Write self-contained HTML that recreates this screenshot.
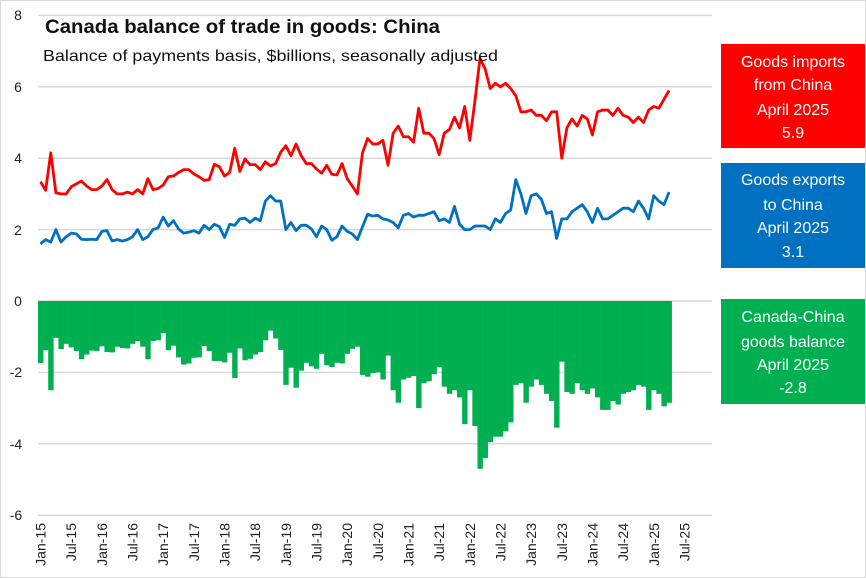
<!DOCTYPE html>
<html><head><meta charset="utf-8"><style>
html,body{margin:0;padding:0;background:#fff}
svg{display:block;font-family:"Liberation Sans",sans-serif}
</style></head><body>
<svg id="s" width="866" height="578" viewBox="0 0 866 578" xmlns="http://www.w3.org/2000/svg">
<rect x="0.5" y="0.5" width="865" height="577" fill="#fff" stroke="#d9d9d9"/>
<g id="grid" stroke="#d9d9d9" stroke-width="1.5"></g>
<g id="bars" fill="#00b050"></g>
<g id="lines"></g>
<g font-size="14" fill="#222" text-anchor="middle">
<text x="18" y="20">8</text><text x="18" y="92">6</text><text x="18" y="163">4</text><text x="18" y="235">2</text>
<text x="18" y="306">0</text><text x="16" y="377">-2</text><text x="16" y="449">-4</text><text x="16" y="520">-6</text>
</g>
<g id="xl" font-size="14" fill="#222" text-anchor="end"></g>
<text x="45" y="33" font-size="19.5" font-weight="bold" fill="#111" textLength="395" lengthAdjust="spacingAndGlyphs">Canada balance of trade in goods: China</text>
<text x="43" y="61" font-size="16" fill="#111" textLength="455" lengthAdjust="spacingAndGlyphs">Balance of payments basis, $billions, seasonally adjusted</text>
<rect x="721" y="44" width="144" height="104" fill="#ff0000"/>
<rect x="721" y="163" width="144" height="105" fill="#0070c0"/>
<rect x="721" y="299" width="144" height="105" fill="#00b050"/>
<g font-size="16" fill="#fff" text-anchor="middle">
<text x="793" y="67">Goods imports</text><text x="793" y="90">from China</text><text x="793" y="115">April 2025</text><text x="793" y="138">5.9</text>
<text x="793" y="185">Goods exports</text><text x="793" y="210">to China</text><text x="793" y="233">April 2025</text><text x="793" y="257">3.1</text>
<text x="793" y="322">Canada-China</text><text x="793" y="347">goods balance</text><text x="793" y="370">April 2025</text><text x="793" y="393">-2.8</text>
</g>
</svg>
<script>
var red=[3.34,3.1,4.15,3.03,3.0,3.0,3.2,3.28,3.36,3.22,3.12,3.12,3.22,3.4,3.12,3.0,3.0,3.05,3.0,3.12,3.0,3.43,3.12,3.15,3.25,3.48,3.5,3.6,3.68,3.68,3.56,3.48,3.38,3.4,3.83,3.76,3.5,3.6,4.28,3.63,3.98,3.82,3.82,3.68,3.9,3.78,3.85,4.17,4.35,4.07,4.4,4.07,3.85,3.85,3.7,3.58,3.8,3.55,3.53,3.85,3.43,3.22,3.0,4.15,4.55,4.4,4.4,4.5,3.8,4.7,4.9,4.6,4.6,4.45,5.4,4.7,4.7,4.55,4.1,4.7,4.8,5.15,4.85,5.45,4.5,5.6,6.8,6.5,5.95,6.1,6.0,6.1,5.95,5.75,5.3,5.3,5.35,5.2,5.2,5.05,5.3,5.3,4.0,4.85,5.1,4.9,5.2,5.1,4.65,5.3,5.35,5.35,5.2,5.4,5.2,5.15,5.0,5.15,5.0,5.35,5.45,5.4,5.65,5.9];
var blue=[1.6,1.72,1.65,2.0,1.65,1.8,1.9,1.88,1.73,1.72,1.73,1.72,1.95,1.97,1.68,1.72,1.68,1.72,1.8,2.0,1.72,1.8,2.0,2.05,2.35,2.1,2.25,2.02,1.9,1.93,1.97,1.9,2.12,2.0,2.15,2.08,1.78,2.15,2.12,2.3,2.32,2.2,2.32,2.25,2.8,2.95,2.8,2.8,2.0,2.2,1.97,2.12,2.12,2.02,1.8,2.1,2.0,1.7,1.8,2.1,1.95,1.88,1.72,2.08,2.43,2.38,2.4,2.3,2.27,2.2,2.05,2.4,2.45,2.35,2.4,2.4,2.45,2.5,2.25,2.3,2.2,2.65,2.15,2.0,2.0,2.1,2.1,2.1,2.0,2.3,2.2,2.45,2.55,3.4,3.0,2.45,2.95,3.0,2.85,2.45,2.5,1.75,2.3,2.3,2.5,2.6,2.7,2.5,2.2,2.6,2.3,2.3,2.4,2.5,2.6,2.6,2.5,2.8,2.6,2.3,2.95,2.8,2.7,3.05];
var NS="http://www.w3.org/2000/svg";
function el(t,a,p){var e=document.createElementNS(NS,t);for(var k in a)e.setAttribute(k,a[k]);p.appendChild(e);return e;}
var X0=38,W=5.11,Z=301,S=35.7;
function Y(v){return Z-v*S;}
var g=document.getElementById('grid');
for(var v=8;v>=-6;v-=2){el('line',{x1:38,x2:712,y1:Y(v),y2:Y(v)},g);}
var b=document.getElementById('bars');
for(var i=0;i<red.length;i++){var d=blue[i]-red[i];el('rect',{x:(X0+W*i).toFixed(2),y:Z,width:(W+0.3).toFixed(2),height:(-d*S).toFixed(2)},b);}
var L=document.getElementById('lines');
function path(arr,c){var s='';for(var i=0;i<arr.length;i++){s+=(i?'L':'M')+(X0+W*(i+0.5)).toFixed(2)+','+Y(arr[i]).toFixed(2);}el('path',{d:s,fill:'none',stroke:c,'stroke-width':2.8,'stroke-linejoin':'round'},L);}
path(red,'#ff0000');path(blue,'#0070c0');
var xl=document.getElementById('xl');var mn=['Jan','Jul'];
for(var k=0;k<=21;k++){var m=k*6;var x=X0+W*(m+0.5)+5;var t=el('text',{x:x,y:523,transform:'rotate(-90 '+x+' 523)'},xl);t.textContent=mn[k%2]+'-'+(15+Math.floor(k/2));}
</script>
</body></html>
